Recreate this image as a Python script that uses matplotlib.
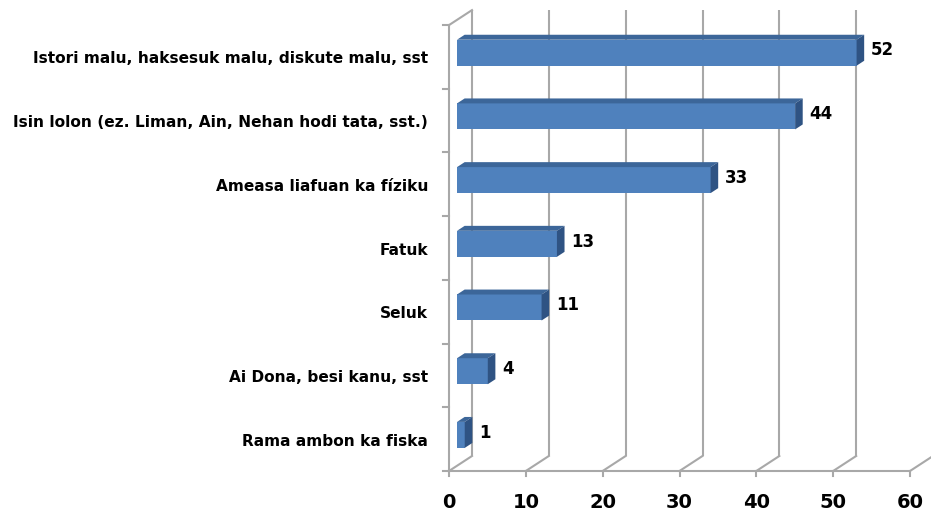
import matplotlib
matplotlib.use("Agg")
import matplotlib.pyplot as plt
from matplotlib.patches import Polygon

categories = [
    "Rama ambon ka fiska",
    "Ai Dona, besi kanu, sst",
    "Seluk",
    "Fatuk",
    "Ameasa liafuan ka fíziku",
    "Isin lolon (ez. Liman, Ain, Nehan hodi tata, sst.)",
    "Istori malu, haksesuk malu, diskute malu, sst",
]
values = [1, 4, 11, 13, 33, 44, 52]
xticks = [0, 10, 20, 30, 40, 50, 60]

FONT = ["DejaVu Sans"]
W, H = 931, 513
fig = plt.figure(figsize=(W / 100, H / 100), dpi=100)
ax = fig.add_axes([0, 0, 1, 1])
ax.axis("off")

# pixel geometry of the pseudo-3D frame
x0_px, x60_px = 449, 910
ppx = (x60_px - x0_px) / 60.0
floor_px = 471
ppy = 63.7
ax.set_xlim(-x0_px / ppx, (W - x0_px) / ppx)
ax.set_ylim(-(H - floor_px) / ppy, floor_px / ppy)

DX = 23 / ppx      # depth offset in value units
DY = 15 / ppy      # depth offset in category units
n = len(categories)
grid_c = "#A8A8A8"
lw = 1.5

# back wall vertical gridlines
for v in xticks:
    ax.plot([v + DX, v + DX], [DY, n + DY], color=grid_c, lw=lw, solid_capstyle="butt", zorder=1, clip_on=False)
# floor: front edge and depth diagonals
ax.plot([0, xticks[-1]], [0, 0], color=grid_c, lw=lw, zorder=1)
for v in xticks:
    ax.plot([v, v + DX], [0, DY], color=grid_c, lw=lw, zorder=1, clip_on=False)
    ax.plot([v, v], [0, -5 / ppy], color=grid_c, lw=lw, zorder=1)
# left wall
ax.plot([0, 0], [0, n], color=grid_c, lw=lw, zorder=1)
ax.plot([0, DX], [n, n + DY], color=grid_c, lw=lw, zorder=1)
for k in range(n + 1):
    ax.plot([0, -6 / ppx], [k, k], color=grid_c, lw=lw, zorder=1)

# bars
d0, d1 = 0.35, 0.68
bh = 26 / ppy
front_c, top_c, side_c = "#4F81BD", "#3C6699", "#2F5383"
ys = [k + 0.5 + DY * d0 - 1 / ppy for k in range(n)]
ax.barh(ys, values, left=DX * d0, height=bh, color=front_c, zorder=3)
for k, v in enumerate(values):
    yb = ys[k] - bh / 2
    yt = ys[k] + bh / 2
    xl = DX * d0
    xr = v + DX * d0
    ddx = DX * (d1 - d0)
    ddy = DY * (d1 - d0)
    ax.add_patch(Polygon([(xl, yt), (xr, yt), (xr + ddx, yt + ddy), (xl + ddx, yt + ddy)],
                         closed=True, facecolor=top_c, edgecolor="none", zorder=3))
    ax.add_patch(Polygon([(xr, yb), (xr, yt), (xr + ddx, yt + ddy), (xr + ddx, yb + ddy)],
                         closed=True, facecolor=side_c, edgecolor="none", zorder=3))
    ax.text(v + DX * d1 + 7 / ppx, k + 0.5 + DY * 0.5 - 1 / ppy, str(v), ha="left", va="center",
            fontsize=12, fontweight="bold", family=FONT, zorder=4)

# category labels
for k, c in enumerate(categories):
    ax.text(-21 / ppx, k + 0.5 - 2 / ppy, c, ha="right", va="center", fontsize=11.1,
            fontweight="bold", family=FONT)

# x tick labels
for v in xticks:
    ax.text(v, -31 / ppy, str(v), ha="center", va="center", fontsize=14,
            fontweight="bold", family=FONT)

fig.savefig("out.png", dpi=100)
